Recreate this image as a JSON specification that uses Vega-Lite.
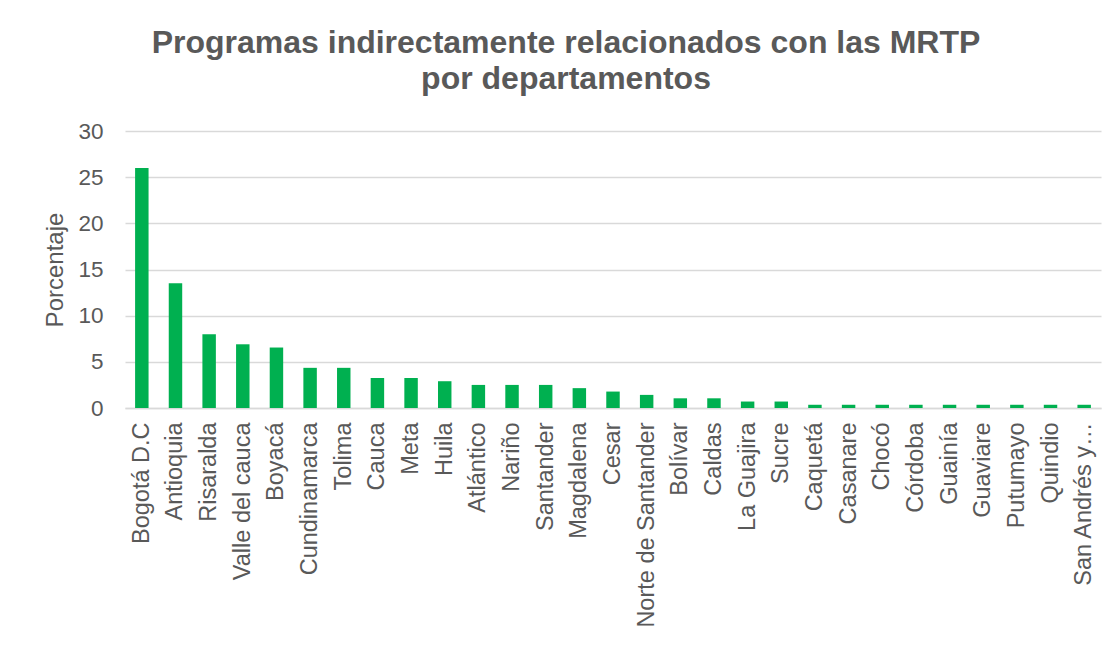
{
  "$schema": "https://vega.github.io/schema/vega-lite/v6.json",
  "width": 976,
  "height": 277,
  "autosize": {"type": "none"},
  "padding": {"left": 125, "top": 131, "right": 19, "bottom": 238},
  "background": "white",
  "title": {
    "text": ["Programas indirectamente relacionados con las MRTP", "por departamentos"],
    "anchor": "middle",
    "dx": -47,
    "offset": 24,
    "font": "Liberation Sans",
    "fontSize": 32,
    "fontWeight": "bold",
    "color": "#595959",
    "lineHeight": 36
  },
  "data": {
    "values": [
      {"departamento": "Bogotá D.C", "porcentaje": 26.0},
      {"departamento": "Antioquia", "porcentaje": 13.5},
      {"departamento": "Risaralda", "porcentaje": 8.0},
      {"departamento": "Valle del cauca", "porcentaje": 6.9},
      {"departamento": "Boyacá", "porcentaje": 6.55},
      {"departamento": "Cundinamarca", "porcentaje": 4.35},
      {"departamento": "Tolima", "porcentaje": 4.35},
      {"departamento": "Cauca", "porcentaje": 3.25},
      {"departamento": "Meta", "porcentaje": 3.25},
      {"departamento": "Huila", "porcentaje": 2.9},
      {"departamento": "Atlántico", "porcentaje": 2.5},
      {"departamento": "Nariño", "porcentaje": 2.5},
      {"departamento": "Santander", "porcentaje": 2.5},
      {"departamento": "Magdalena", "porcentaje": 2.15},
      {"departamento": "Cesar", "porcentaje": 1.78},
      {"departamento": "Norte de Santander", "porcentaje": 1.42},
      {"departamento": "Bolívar", "porcentaje": 1.05},
      {"departamento": "Caldas", "porcentaje": 1.05},
      {"departamento": "La Guajira", "porcentaje": 0.7},
      {"departamento": "Sucre", "porcentaje": 0.7},
      {"departamento": "Caquetá", "porcentaje": 0.35},
      {"departamento": "Casanare", "porcentaje": 0.35},
      {"departamento": "Chocó", "porcentaje": 0.35},
      {"departamento": "Córdoba", "porcentaje": 0.35},
      {"departamento": "Guainía", "porcentaje": 0.35},
      {"departamento": "Guaviare", "porcentaje": 0.35},
      {"departamento": "Putumayo", "porcentaje": 0.35},
      {"departamento": "Quindio", "porcentaje": 0.35},
      {"departamento": "San Andrés y Providencia", "porcentaje": 0.35}
    ]
  },
  "mark": {"type": "bar", "color": "#00B050"},
  "encoding": {
    "x": {
      "field": "departamento",
      "type": "nominal",
      "sort": null,
      "scale": {"paddingInner": 0.6, "paddingOuter": 0.3},
      "axis": {
        "title": null,
        "labelAngle": -90,
        "labelFont": "Liberation Sans",
        "labelFontSize": 23.5,
        "labelColor": "#595959",
        "labelPadding": 14,
        "labelLimit": 300,
        "labelExpr": "datum.label == 'San Andrés y Providencia' ? 'San Andrés y…' : datum.label",
        "ticks": false,
        "domainColor": "#D9D9D9",
        "domainWidth": 1.5
      }
    },
    "y": {
      "field": "porcentaje",
      "type": "quantitative",
      "scale": {"domain": [0, 30], "nice": false},
      "axis": {
        "title": "Porcentaje",
        "titleFont": "Liberation Sans",
        "titleFontSize": 24,
        "titleFontWeight": "normal",
        "titleColor": "#595959",
        "titlePadding": 10,
        "values": [0, 5, 10, 15, 20, 25, 30],
        "labelFont": "Liberation Sans",
        "labelFontSize": 22.5,
        "labelColor": "#595959",
        "labelPadding": 22,
        "ticks": false,
        "domain": false,
        "gridColor": "#D9D9D9",
        "gridWidth": 1.5
      }
    }
  },
  "config": {"view": {"stroke": null}}
}
